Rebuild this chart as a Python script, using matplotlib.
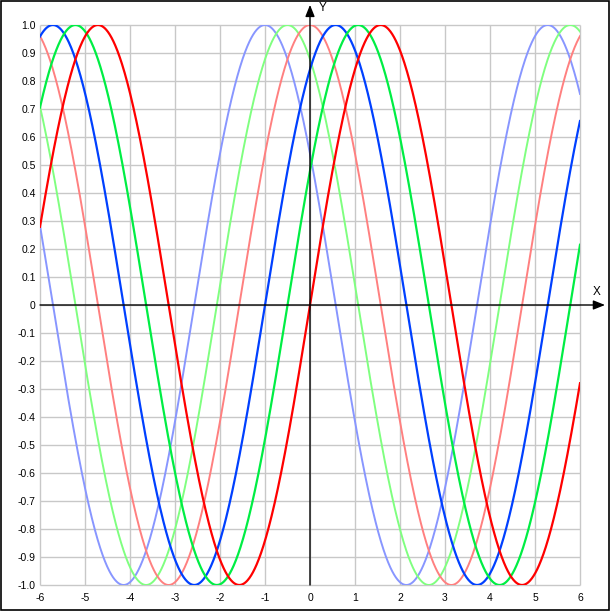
import numpy as np
import matplotlib
matplotlib.use("Agg")
import matplotlib.pyplot as plt
from matplotlib.patches import Rectangle

plt.rcParams["font.family"] = ["Liberation Sans", "DejaVu Sans"]

# curves: sin/cos of (x + shift)
kinds = ["cos", "cos", "cos", "sin", "sin", "sin"]
shifts = [1.0, 0.5, 0.0, 1.0, 0.5, 0.0]
colors = ["#8896ff", "#80ff80", "#ff8080", "#0040ff", "#00ee44", "#ff0000"]
widths = [1.4, 1.4, 1.4, 1.6, 1.6, 1.6]

x_ticks = list(range(-6, 7))
y_ticks = [round(v / 10, 1) for v in range(-10, 11)]

W = H = 611
fig = plt.figure(figsize=(W / 100, H / 100), dpi=100)
ax = fig.add_axes([40 / W, (H - 585) / H, 540 / W, 560 / H])
ax.set_xlim(-6, 6)
ax.set_ylim(-1, 1)
for sp in ax.spines.values():
    sp.set_visible(False)

# grid
ax.vlines(x_ticks, -1, 1, color="#c8c8c8", lw=1, zorder=0, clip_on=False)
ax.hlines(y_ticks, -6, 6, color="#c8c8c8", lw=1, zorder=0, clip_on=False)

xs = np.linspace(-6, 6, 1200)
for k, s, c, w in zip(kinds, shifts, colors, widths):
    f = np.sin if k == "sin" else np.cos
    ax.plot(xs, f(xs + s), color=c, lw=w, zorder=3)

# axes with arrows
arrow = dict(arrowstyle="-|>,head_length=0.5,head_width=0.2", color="black", lw=1,
             mutation_scale=14, shrinkA=0, shrinkB=0)
ax.annotate("", xy=(0, 1.072), xytext=(0, -1), arrowprops=arrow,
            annotation_clip=False, zorder=4)
ax.annotate("", xy=(6.556, 0), xytext=(-6, 0), arrowprops=arrow,
            annotation_clip=False, zorder=4)
ax.text(0.2, 1.062, "Y", fontsize=8.5, ha="left", va="center", clip_on=False)
ax.text(6.28, 0.047, "X", fontsize=8.5, ha="left", va="center", clip_on=False)

ax.set_xticks(x_ticks)
ax.set_xticklabels([str(v) for v in x_ticks])
ax.set_yticks(y_ticks)
ax.set_yticklabels(["0" if v == 0 else f"{v:.1f}" for v in y_ticks])
ax.tick_params(axis="y", length=0, labelsize=7.5, pad=3)
ax.tick_params(axis="x", length=0, labelsize=7.5, pad=6)

fig.patches.append(Rectangle((0.5 / W, 1.5 / H), (W - 3) / W, (H - 2.5) / H,
                             transform=fig.transFigure, fill=False, ec="black", lw=1.2))

fig.savefig("out.png", dpi=100)
